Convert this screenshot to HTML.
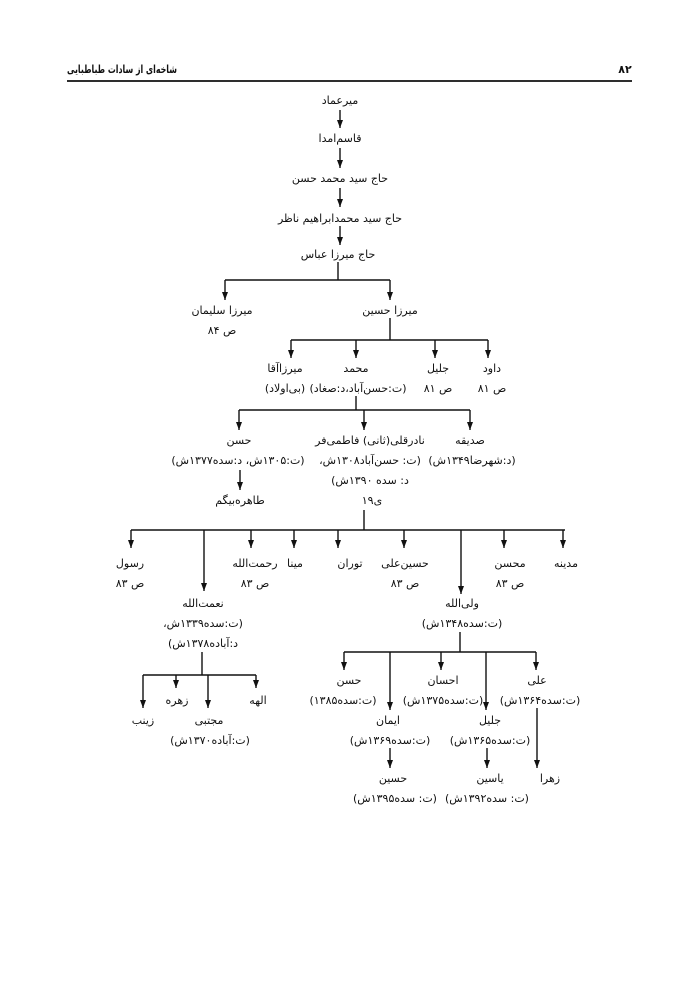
<!DOCTYPE html>
<html><head><meta charset="utf-8"><style>
body{margin:0;background:#fff}
svg{display:block}
text{font-family:"DejaVu Sans","Liberation Sans",sans-serif;font-size:11px;fill:#111;text-anchor:middle;direction:rtl}
.h{font-weight:bold;font-size:11px}
line{stroke:#111;stroke-width:1.4}
</style></head><body>
<svg width="700" height="989" viewBox="0 0 700 989" xmlns="http://www.w3.org/2000/svg">
<defs>
<marker id="b" markerWidth="8" markerHeight="9" refX="4" refY="8" markerUnits="userSpaceOnUse" orient="0"><path d="M1,0 L7,0 L4,8 Z" fill="#111"/></marker></defs>
<text class="h" x="122" y="73" textLength="110" lengthAdjust="spacingAndGlyphs">شاخه‌ای از سادات طباطبایی</text>
<text class="h" x="625" y="73">۸۲</text>
<line x1="67" y1="81" x2="632" y2="81" style="stroke-width:1.8"/>
<g>
<line x1="340" y1="110" x2="340" y2="128" marker-end="url(#b)"/>
<line x1="340" y1="148" x2="340" y2="168" marker-end="url(#b)"/>
<line x1="340" y1="188" x2="340" y2="207" marker-end="url(#b)"/>
<line x1="340" y1="226" x2="340" y2="245" marker-end="url(#b)"/>
<line x1="338" y1="262" x2="338" y2="280"/>
<line x1="225" y1="280" x2="390" y2="280"/>
<line x1="225" y1="280" x2="225" y2="300" marker-end="url(#b)"/>
<line x1="390" y1="280" x2="390" y2="300" marker-end="url(#b)"/>
<line x1="390" y1="318" x2="390" y2="340"/>
<line x1="291" y1="340" x2="488" y2="340"/>
<line x1="291" y1="340" x2="291" y2="358" marker-end="url(#b)"/>
<line x1="356" y1="340" x2="356" y2="358" marker-end="url(#b)"/>
<line x1="435" y1="340" x2="435" y2="358" marker-end="url(#b)"/>
<line x1="488" y1="340" x2="488" y2="358" marker-end="url(#b)"/>
<line x1="356" y1="396" x2="356" y2="410"/>
<line x1="239" y1="410" x2="470" y2="410"/>
<line x1="239" y1="410" x2="239" y2="430" marker-end="url(#b)"/>
<line x1="364" y1="410" x2="364" y2="430" marker-end="url(#b)"/>
<line x1="470" y1="410" x2="470" y2="430" marker-end="url(#b)"/>
<line x1="240" y1="470" x2="240" y2="490" marker-end="url(#b)"/>
<line x1="364" y1="510" x2="364" y2="530"/>
<line x1="131" y1="530" x2="565" y2="530"/>
<line x1="131" y1="530" x2="131" y2="548" marker-end="url(#b)"/>
<line x1="204" y1="530" x2="204" y2="591" marker-end="url(#b)"/>
<line x1="251" y1="530" x2="251" y2="548" marker-end="url(#b)"/>
<line x1="294" y1="530" x2="294" y2="548" marker-end="url(#b)"/>
<line x1="338" y1="530" x2="338" y2="548" marker-end="url(#b)"/>
<line x1="404" y1="530" x2="404" y2="548" marker-end="url(#b)"/>
<line x1="461" y1="530" x2="461" y2="594" marker-end="url(#b)"/>
<line x1="504" y1="530" x2="504" y2="548" marker-end="url(#b)"/>
<line x1="563" y1="530" x2="563" y2="548" marker-end="url(#b)"/>
<line x1="202" y1="652" x2="202" y2="675"/>
<line x1="143" y1="675" x2="256" y2="675"/>
<line x1="143" y1="675" x2="143" y2="708" marker-end="url(#b)"/>
<line x1="176" y1="675" x2="176" y2="688" marker-end="url(#b)"/>
<line x1="208" y1="675" x2="208" y2="708" marker-end="url(#b)"/>
<line x1="256" y1="675" x2="256" y2="688" marker-end="url(#b)"/>
<line x1="460" y1="632" x2="460" y2="652"/>
<line x1="344" y1="652" x2="536" y2="652"/>
<line x1="344" y1="652" x2="344" y2="670" marker-end="url(#b)"/>
<line x1="390" y1="652" x2="390" y2="710" marker-end="url(#b)"/>
<line x1="441" y1="652" x2="441" y2="670" marker-end="url(#b)"/>
<line x1="486" y1="652" x2="486" y2="710" marker-end="url(#b)"/>
<line x1="536" y1="652" x2="536" y2="670" marker-end="url(#b)"/>
<line x1="390" y1="748" x2="390" y2="768" marker-end="url(#b)"/>
<line x1="487" y1="748" x2="487" y2="768" marker-end="url(#b)"/>
<line x1="537" y1="708" x2="537" y2="768" marker-end="url(#b)"/>
</g>
<text x="340" y="104">میرعماد</text>
<text x="340" y="142">قاسم‌امدا</text>
<text x="340" y="182">حاج سید محمد حسن</text>
<text x="340" y="222">حاج سید محمدابراهیم ناظر</text>
<text x="338" y="258">حاج میرزا عباس</text>
<text x="222" y="314">میرزا سلیمان</text>
<text x="222" y="334">ص ۸۴</text>
<text x="390" y="314">میرزا حسین</text>
<text x="285" y="372">میرزاآقا</text>
<text x="356" y="372">محمد</text>
<text x="438" y="372">جلیل</text>
<text x="492" y="372">داود</text>
<text x="285" y="392">(بی‌اولاد)</text>
<text x="358" y="392">(ت:حسن‌آباد،د:صغاد)</text>
<text x="438" y="392">ص ۸۱</text>
<text x="492" y="392">ص ۸۱</text>
<text x="239" y="444">حسن</text>
<text x="370" y="444">نادرقلی(ثانی) فاطمی‌فر</text>
<text x="470" y="444">صدیقه</text>
<text x="238" y="464">(ت:۱۳۰۵ش، د:سده۱۳۷۷ش)</text>
<text x="370" y="464">(ت: حسن‌آباد۱۳۰۸ش،</text>
<text x="472" y="464">(د:شهرضا۱۳۴۹ش)</text>
<text x="370" y="484">د: سده ۱۳۹۰ش)</text>
<text x="372" y="504">ی۱۹</text>
<text x="240" y="504">طاهره‌بیگم</text>
<text x="130" y="567">رسول</text>
<text x="255" y="567">رحمت‌الله</text>
<text x="295" y="567">مینا</text>
<text x="350" y="567">توران</text>
<text x="405" y="567">حسین‌علی</text>
<text x="510" y="567">محسن</text>
<text x="566" y="567">مدینه</text>
<text x="130" y="587">ص ۸۳</text>
<text x="255" y="587">ص ۸۳</text>
<text x="405" y="587">ص ۸۳</text>
<text x="510" y="587">ص ۸۳</text>
<text x="203" y="607">نعمت‌الله</text>
<text x="203" y="627">(ت:سده۱۳۳۹ش،</text>
<text x="203" y="647">د:آباده۱۳۷۸ش)</text>
<text x="462" y="607">ولی‌الله</text>
<text x="462" y="627">(ت:سده۱۳۴۸ش)</text>
<text x="258" y="704">الهه</text>
<text x="177" y="704">زهره</text>
<text x="209" y="724">مجتبی</text>
<text x="143" y="724">زینب</text>
<text x="210" y="744">(ت:آباده۱۳۷۰ش)</text>
<text x="537" y="684">علی</text>
<text x="540" y="704">(ت:سده۱۳۶۴ش)</text>
<text x="443" y="684">احسان</text>
<text x="443" y="704">(ت:سده۱۳۷۵ش)</text>
<text x="349" y="684">حسن</text>
<text x="343" y="704">(ت:سده۱۳۸۵)</text>
<text x="388" y="724">ایمان</text>
<text x="390" y="744">(ت:سده۱۳۶۹ش)</text>
<text x="490" y="724">جلیل</text>
<text x="490" y="744">(ت:سده۱۳۶۵ش)</text>
<text x="393" y="782">حسین</text>
<text x="395" y="802">(ت: سده۱۳۹۵ش)</text>
<text x="490" y="782">یاسین</text>
<text x="487" y="802">(ت: سده۱۳۹۲ش)</text>
<text x="550" y="782">زهرا</text>
</svg>
</body></html>
